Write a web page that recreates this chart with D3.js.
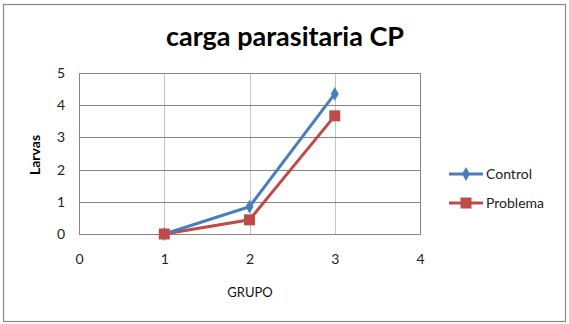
<!DOCTYPE html>
<html>
<head>
<meta charset="utf-8">
<script src="https://cdn.jsdelivr.net/npm/d3@7"></script>
<style>
  body { margin: 0; background: #fff; }
  svg { display: block; }
</style>
</head>
<body>
<div id="chart"></div>
<script>
// data
var grupos = [1, 2, 3];
var control = [0, 0.85, 4.35];
var problema = [0, 0.44, 3.67];
var xTicks = [0, 1, 2, 3, 4];
var yTicks = [0, 1, 2, 3, 4, 5];
var seriesNames = ["Control", "Problema"];

var W = 569, H = 324;
var margin = { top: 73, right: 149, bottom: 90, left: 79 },
  width = W - margin.left - margin.right,
  height = H - margin.top - margin.bottom;

var svg = d3.select("#chart")
  .append("svg")
  .attr("width", W)
  .attr("height", H);

// outer frame
svg.append("rect")
  .attr("x", 3.5).attr("y", 4.5)
  .attr("width", 562).attr("height", 317)
  .style("fill", "none")
  .style("stroke", "#888")
  .style("stroke-width", 1.2);

// title
svg.append("text")
  .attr("x", 285).attr("y", 46)
  .attr("text-anchor", "middle")
  .style("font-family", "Lato, 'Open Sans', sans-serif")
  .style("font-weight", "bold")
  .style("font-size", "27px")
  .text("carga parasitaria CP");

var g = svg.append("g")
  .attr("transform", "translate(" + margin.left + "," + margin.top + ")");

var x = d3.scaleLinear().domain([0, 4]).range([0, width]);
var y = d3.scaleLinear().domain([0, 5]).range([height, 0]);

// vertical gridlines (light)
g.selectAll(".vgrid")
  .data(xTicks.filter(function (d) { return d > 0 && d < 4; }))
  .enter().append("line")
  .attr("x1", function (d) { return Math.round(x(d)) + 0.5; })
  .attr("x2", function (d) { return Math.round(x(d)) + 0.5; })
  .attr("y1", 0).attr("y2", height)
  .style("stroke", "#c4c4c4");

// horizontal gridlines
g.selectAll(".hgrid")
  .data(yTicks.filter(function (d) { return d > 0 && d < 5; }))
  .enter().append("line")
  .attr("x1", 0).attr("x2", width)
  .attr("y1", function (d) { return Math.round(y(d)) + 0.5; })
  .attr("y2", function (d) { return Math.round(y(d)) + 0.5; })
  .style("stroke", "#868686");

// plot border
g.append("rect")
  .attr("x", 0.5).attr("y", 0.5)
  .attr("width", width).attr("height", height)
  .style("fill", "none")
  .style("stroke", "#868686");

// axes (labels only)
var yAxis = g.append("g")
  .call(d3.axisLeft(y).tickValues(yTicks).tickSize(0).tickPadding(14).tickFormat(d3.format("d")));
yAxis.select(".domain").remove();

var xAxis = g.append("g")
  .attr("transform", "translate(0," + height + ")")
  .call(d3.axisBottom(x).tickValues(xTicks).tickSize(0).tickPadding(20).tickFormat(d3.format("d")));
xAxis.select(".domain").remove();

g.selectAll(".tick text")
  .style("font-family", "Lato, 'Open Sans', sans-serif")
  .style("font-size", "14px")
  .style("fill", "#222");

// axis titles
svg.append("text")
  .attr("transform", "translate(40,155) rotate(-90)")
  .attr("text-anchor", "middle")
  .style("font-family", "Lato, 'Open Sans', sans-serif")
  .style("font-weight", "bold")
  .style("font-size", "14px")
  .text("Larvas");

svg.append("text")
  .attr("x", 250).attr("y", 297)
  .attr("text-anchor", "middle")
  .style("font-family", "Lato, 'Open Sans', sans-serif")
  .style("font-size", "13px")
  .style("fill", "#111")
  .text("GRUPO");

// series
var series = [
  { name: seriesNames[0], values: control, color: "#4a7ebb", symbol: d3.symbolDiamond, size: 55 },
  { name: seriesNames[1], values: problema, color: "#be4b48", symbol: d3.symbolSquare, size: 121 }
];

var line = d3.line()
  .x(function (d) { return x(d[0]); })
  .y(function (d) { return y(d[1]); });

// draw red first so blue lies above, then markers
series.slice().reverse().forEach(function (s) {
  var pts = grupos.map(function (gr, i) { return [gr, s.values[i]]; });
  g.append("path")
    .datum(pts)
    .attr("d", line)
    .style("fill", "none")
    .style("stroke", s.color)
    .style("stroke-width", 3);
});

series.forEach(function (s) {
  var pts = grupos.map(function (gr, i) { return [gr, s.values[i]]; });
  g.selectAll(null)
    .data(pts)
    .enter().append("path")
    .attr("transform", function (d) { return "translate(" + x(d[0]) + "," + y(d[1]) + ")"; })
    .attr("d", d3.symbol().type(s.symbol).size(s.size))
    .style("fill", s.color);
});

// legend
var legend = svg.append("g")
  .attr("transform", "translate(449,174)");

series.forEach(function (s, i) {
  var row = legend.append("g").attr("transform", "translate(0," + (i * 29) + ")");
  row.append("line")
    .attr("x1", 0).attr("x2", 34)
    .attr("y1", 0).attr("y2", 0)
    .style("stroke", s.color)
    .style("stroke-width", 3);
  row.append("path")
    .attr("transform", "translate(17,0)")
    .attr("d", d3.symbol().type(s.symbol).size(s.size))
    .style("fill", s.color);
  row.append("text")
    .attr("x", 37).attr("y", 5)
    .style("font-family", "Lato, 'Open Sans', sans-serif")
    .style("font-size", "14px")
    .style("fill", "#222")
    .text(s.name);
});
</script>
</body>
</html>
